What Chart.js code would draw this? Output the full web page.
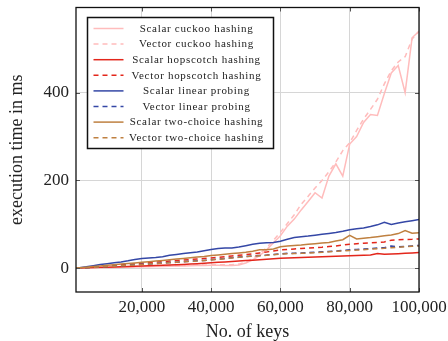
<!DOCTYPE html>
<html>
<head>
<meta charset="utf-8">
<script src="https://cdn.jsdelivr.net/npm/chart.js@4.4.1/dist/chart.umd.min.js"></script>
<style>
  html, body { margin: 0; padding: 0; background: #fff; }
  #wrap { width: 448px; height: 341px; }
</style>
</head>
<body>
<div id="wrap"><canvas id="c" width="448" height="341"></canvas></div>
<script>
// Number of keys inserted (x values shared by all series)
const keys = [1000, 2000, 4000, 6000, 8000, 10000, 12000, 14000, 16000, 18000,
  20000, 22000, 24000, 26000, 28000, 30000, 32000, 34000, 36000, 38000,
  40000, 42000, 44000, 46000, 48000, 50000, 52000, 54000, 56000, 58000,
  60000, 62000, 64000, 66000, 68000, 70000, 72000, 74000, 76000, 78000,
  80000, 82000, 84000, 86000, 88000, 90000, 92000, 94000, 96000, 98000, 100000];

// Execution time in ms
const scalarCuckoo = [0, 0.3, 0.6, 1, 1.3, 1.6, 2, 2.3, 2.6, 3,
  3.3, 3.6, 4, 4.3, 4.7, 5, 5.4, 5.8, 6.2, 6.6,
  7, 6.8, 6.3, 6.2, 7.5, 12, 19, 29, 42, 58,
  74, 96, 112, 133, 152, 172, 160, 210, 238, 210,
  283, 300, 332, 350, 348, 398, 445, 462, 400, 525, 540];
const vectorCuckoo = [0, 0.4, 0.8, 1.2, 1.6, 2, 2.4, 2.8, 3.2, 3.6,
  4, 4.4, 4.8, 5.2, 5.6, 6, 6.4, 6.8, 7.2, 7.6,
  8, 8, 7.8, 8, 9.5, 14, 22, 33, 47, 64,
  82, 102, 122, 146, 164, 183, 200, 220, 242, 268,
  286, 314, 340, 362, 385, 420, 450, 470, 482, 522, 540];
const scalarHopscotch = [0, 0.5, 1, 1.6, 2.1, 2.6, 3.1, 3.6, 4.1, 4.6,
  5.2, 5.8, 6.4, 7, 7.6, 8.2, 8.9, 9.6, 10.4, 11.3,
  12.5, 13.5, 14.5, 15.5, 16.5, 17.5, 18.5, 19.5, 20.5, 21.7,
  23, 23.5, 24, 24.6, 25.2, 25.8, 26.4, 27, 27.6, 28.2,
  28.8, 29.3, 29.8, 30.5, 33.5, 32, 32.6, 33.4, 34.2, 35, 36];
const vectorHopscotch = [0.3, 0.8, 2, 3.2, 4.4, 5.6, 6.8, 8, 9.2, 10.4,
  11.6, 12.8, 14, 15.2, 16.4, 17.6, 18.8, 20, 21.2, 22.4,
  23.6, 25, 26.5, 28, 29.5, 31, 33, 35, 37, 39.5,
  42, 43, 44, 45, 46, 47, 48, 49.5, 51, 53,
  55, 56, 57, 58, 59, 60, 64, 65, 65.5, 66, 67];
const scalarLinear = [0.5, 1.5, 3.5, 6, 8.5, 10.5, 12.5, 14.5, 17, 20,
  22.5, 23.5, 24.5, 26.5, 29.5, 31.5, 33.5, 35.5, 37, 40,
  43, 45, 46, 46, 48.5, 51.5, 54.5, 57, 58, 58.5,
  61.5, 66, 70, 72, 73.5, 75.5, 77.5, 79.5, 81.5, 84.5,
  88, 90, 92, 95, 99, 105, 100, 103, 106, 108.5, 111];
const vectorLinear = [0.2, 0.6, 1.5, 2.4, 3.3, 4.2, 5.1, 6, 7, 8,
  9, 10, 11, 12, 13, 14, 15, 16, 17, 18,
  19.5, 21, 22.5, 24, 25.5, 27, 28, 29, 30, 31.5,
  33, 34, 34.5, 35, 35.5, 36.5, 37.5, 38.5, 39.5, 40.5,
  42, 43, 44, 45, 46, 47, 51, 49, 50, 51, 52];
const scalarTwoChoice = [0.3, 1, 2.5, 4, 5.5, 7, 8.3, 9.6, 11, 12.3,
  13.5, 15, 16.5, 18, 19.5, 21, 22.5, 24, 25.5, 27,
  29, 30.5, 32, 33.5, 35, 36.5, 39, 42, 42.5, 44,
  49, 51, 52, 53, 54.5, 56, 57.5, 59, 62, 65,
  75, 67, 68.5, 70, 72, 74, 76, 79, 86, 80, 81];
const vectorTwoChoice = [0.2, 0.6, 1.4, 2.2, 3, 3.9, 4.8, 5.7, 6.6, 7.6,
  8.6, 9.6, 10.6, 11.6, 12.6, 13.6, 14.6, 15.6, 16.6, 17.6,
  19, 20.5, 22, 23.5, 25, 26.5, 27.5, 28.5, 29.5, 31,
  32.5, 33, 33.5, 34, 34.5, 35.5, 36.5, 37.5, 38.5, 39.5,
  40.5, 41.5, 42.5, 43.5, 44.5, 45.5, 47, 48, 49, 50, 51];

// Axis tick values
const xTicks = [20000, 40000, 60000, 80000, 100000];
const yTicks = [0, 200, 400];

const PINK = '#ffbcbc', RED = '#e3261b', BLUE = '#3447a6', BROWN = '#bf8040';
const DASH = [5, 4];
const SERIF = '"Liberation Serif", "Times New Roman", serif';

function series(label, values, color, dashed) {
  return {
    label,
    data: keys.map((k, i) => ({ x: k, y: values[i] })),
    borderColor: color,
    backgroundColor: color,
    borderWidth: 1.5,
    borderDash: dashed ? DASH : [],
    pointRadius: 0,
    tension: 0,
    fill: false
  };
}

const datasets = [
  series('Scalar cuckoo hashing', scalarCuckoo, PINK, false),
  series('Vector cuckoo hashing', vectorCuckoo, PINK, true),
  series('Scalar hopscotch hashing', scalarHopscotch, RED, false),
  series('Vector hopscotch hashing', vectorHopscotch, RED, true),
  series('Scalar linear probing', scalarLinear, BLUE, false),
  series('Vector linear probing', vectorLinear, BLUE, true),
  series('Scalar two-choice hashing', scalarTwoChoice, BROWN, false),
  series('Vector two-choice hashing', vectorTwoChoice, BROWN, true)
];
// later series are painted over earlier ones
datasets.forEach((d, i) => { d.order = datasets.length - i; });

// Axis box with inward tick marks on all four sides
const frame = {
  id: 'frame',
  afterDatasetsDraw(chart) {
    const { ctx, chartArea: a, scales } = chart;
    ctx.save();
    ctx.strokeStyle = '#555';
    ctx.lineWidth = 1;
    const t = 4;
    ctx.beginPath();
    xTicks.forEach(v => {
      const px = Math.round(scales.x.getPixelForValue(v)) + 0.5;
      ctx.moveTo(px, a.bottom); ctx.lineTo(px, a.bottom - t);
      ctx.moveTo(px, a.top); ctx.lineTo(px, a.top + t);
    });
    yTicks.forEach(v => {
      const py = Math.round(scales.y.getPixelForValue(v)) + 0.5;
      ctx.moveTo(a.left, py); ctx.lineTo(a.left + t, py);
      ctx.moveTo(a.right, py); ctx.lineTo(a.right - t, py);
    });
    ctx.stroke();
    ctx.strokeStyle = '#111';
    ctx.lineWidth = 1.3;
    ctx.strokeRect(a.left, a.top, a.right - a.left, a.bottom - a.top);
    ctx.restore();
  }
};

// Boxed legend in the upper left of the plot
const boxLegend = {
  id: 'boxLegend',
  afterDraw(chart) {
    const { ctx, chartArea: a } = chart;
    const x0 = a.left + 11.5, y0 = a.top + 10, w = 186, h = 131;
    ctx.save();
    ctx.fillStyle = '#fff';
    ctx.fillRect(x0, y0, w, h);
    ctx.strokeStyle = '#111';
    ctx.lineWidth = 1.5;
    ctx.strokeRect(x0, y0, w, h);
    ctx.font = '11px ' + SERIF;
    ctx.letterSpacing = '0.7px';
    ctx.fillStyle = '#222';
    ctx.textAlign = 'center';
    ctx.textBaseline = 'middle';
    chart.data.datasets.forEach((ds, i) => {
      const y = y0 + 11 + i * 15.6;
      ctx.beginPath();
      ctx.strokeStyle = ds.borderColor;
      ctx.lineWidth = 1.5;
      ctx.setLineDash(ds.borderDash);
      ctx.moveTo(x0 + 6, y);
      ctx.lineTo(x0 + 36, y);
      ctx.stroke();
      ctx.setLineDash([]);
      ctx.fillText(ds.label, x0 + 109, y + 0.5);
    });
    ctx.restore();
  }
};

new Chart(document.getElementById('c'), {
  type: 'line',
  data: { datasets },
  plugins: [frame, boxLegend],
  options: {
    responsive: false,
    animation: false,
    devicePixelRatio: 1,
    layout: { padding: { left: 0, right: 29, top: 7.5, bottom: 0 } },
    plugins: { legend: { display: false }, tooltip: { enabled: false } },
    scales: {
      x: {
        type: 'linear',
        min: 1000,
        max: 100000,
        afterBuildTicks: s => { s.ticks = xTicks.map(v => ({ value: v })); },
        afterFit: s => { s.height = 49; s.paddingLeft = 0; s.paddingRight = 0; },
        ticks: {
          font: { family: SERIF, size: 17 },
          color: '#222',
          padding: 5,
          maxRotation: 0,
          autoSkip: false,
          callback: v => v.toLocaleString('en-US')
        },
        grid: { color: '#d6d6d6', lineWidth: 1, drawTicks: false },
        border: { display: false },
        title: {
          display: true,
          text: 'No. of keys',
          font: { family: SERIF, size: 18, lineHeight: 1 },
          color: '#222',
          padding: { top: 0, bottom: 0 }
        }
      },
      y: {
        min: -54,
        max: 594,
        afterBuildTicks: s => { s.ticks = yTicks.map(v => ({ value: v })); },
        afterFit: s => { s.width = 76; s.paddingTop = 0; s.paddingBottom = 0; },
        ticks: {
          font: { family: SERIF, size: 17 },
          color: '#222',
          padding: 7,
          autoSkip: false
        },
        grid: { color: '#d6d6d6', lineWidth: 1, drawTicks: false },
        border: { display: false },
        title: {
          display: true,
          text: 'execution time in ms',
          font: { family: SERIF, size: 18, lineHeight: 1 },
          color: '#222',
          padding: { top: 8.5, bottom: 0 }
        }
      }
    }
  }
});
</script>
</body>
</html>
